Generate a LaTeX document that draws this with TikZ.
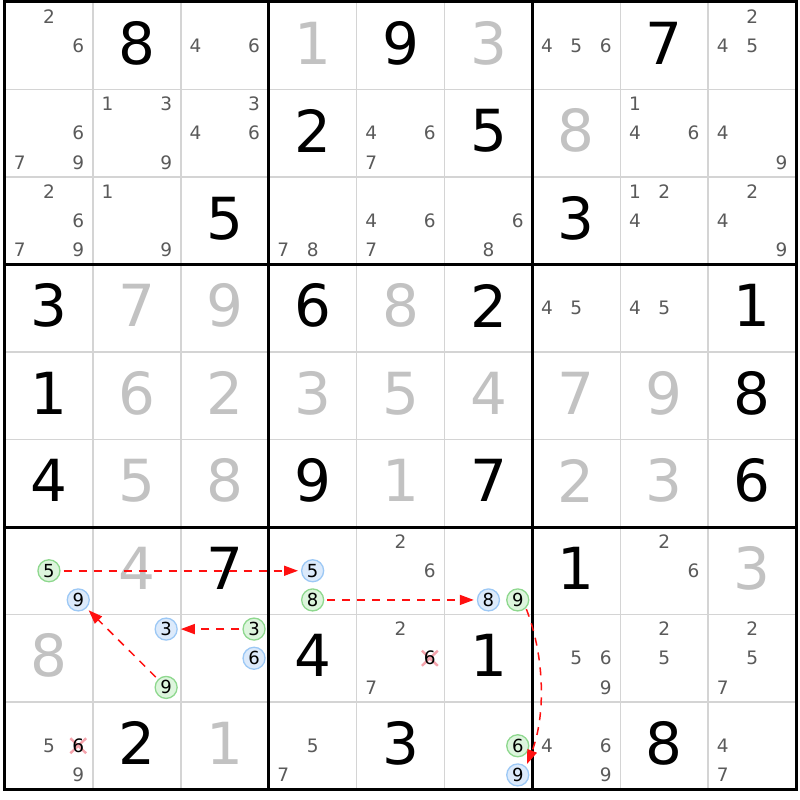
\documentclass[tikz,border=0pt]{standalone}
\usepackage{fontspec}
\setmainfont{DejaVu Sans}
\usetikzlibrary{arrows.meta}
\definecolor{candgray}{HTML}{5A5A5A}
\definecolor{givengray}{HTML}{C2C2C2}
\definecolor{linegray}{HTML}{D4D4D4}
\definecolor{ringgreen}{HTML}{8ED88E}
\definecolor{fillgreen}{HTML}{DDF5DD}
\definecolor{ringblue}{HTML}{9CC8F5}
\definecolor{fillblue}{HTML}{DCEAFB}
\definecolor{crosspink}{HTML}{F4A3AC}
\definecolor{chainred}{HTML}{FF1010}
\begin{document}
\begin{tikzpicture}[x=87.9pt,y=-87.5pt,
  thinline/.style={draw=linegray,line width=1.6pt},
  thickline/.style={draw=black,line width=3pt},
  given/.style={inner sep=0pt,font=\fontsize{58pt}{58pt}\selectfont,text=black},
  solved/.style={given,text=givengray},
  candtxt/.style={inner sep=0pt,font=\fontsize{18.5pt}{18.5pt}\selectfont,text=candgray},
  gcirc/.style={circle,inner sep=0pt,minimum size=22pt,draw=ringgreen,fill=fillgreen,line width=1.3pt,font=\fontsize{18pt}{18pt}\selectfont,text=black},
  bcirc/.style={gcirc,draw=ringblue,fill=fillblue},
  crossline/.style={draw=crosspink,line width=2.4pt},
  linkarrow/.style={draw=chainred,line width=1.5pt,dash pattern=on 8pt off 7pt,-{Triangle[length=14pt,width=10pt]},shorten <=3pt,shorten >=3pt}]
% page: 800 x 800
\fill[white] (-5pt,2pt) rectangle (795pt,-798pt);
\useasboundingbox (-5pt,2pt) rectangle (795pt,-798pt);
% thin grid lines
\foreach \i in {1,2,4,5,7,8} {
  \draw[thinline] (\i,0) -- (\i,9);
  \draw[thinline] (0,\i) -- (9,\i);
}
% thick box lines
\foreach \i in {3,6} {
  \draw[thickline] (\i,0) -- (\i,9);
  \draw[thickline] (0,\i) -- (9,\i);
}
\draw[thickline] (0,0) rectangle (9,9);
% given digits (black)
\foreach \r/\c/\d in {0/1/8,0/4/9,0/7/7,1/3/2,1/5/5,2/2/5,2/6/3,3/0/3,3/3/6,3/5/2,3/8/1,4/0/1,4/8/8,5/0/4,5/3/9,5/5/7,5/8/6,6/2/7,6/6/1,7/3/4,7/5/1,8/1/2,8/4/3,8/7/8}
  \node[given] (g\r\c) at (\c+0.5,\r+0.472) {\d};
% solved digits (gray)
\foreach \r/\c/\d in {0/3/1,0/5/3,1/6/8,3/1/7,3/2/9,3/4/8,4/1/6,4/2/2,4/3/3,4/4/5,4/5/4,4/6/7,4/7/9,5/1/5,5/2/8,5/4/1,5/6/2,5/7/3,6/1/4,6/8/3,7/0/8,8/2/1}
  \node[solved] (g\r\c) at (\c+0.5,\r+0.472) {\d};
% candidates
\foreach \r/\c/\d in {0/0/2,0/0/6,0/2/4,0/2/6,0/6/4,0/6/5,0/6/6,0/8/2,0/8/4,0/8/5,
  1/0/6,1/0/7,1/0/9,1/1/1,1/1/3,1/1/9,1/2/3,1/2/4,1/2/6,1/4/4,1/4/6,1/4/7,1/7/1,1/7/4,1/7/6,1/8/4,1/8/9,
  2/0/2,2/0/6,2/0/7,2/0/9,2/1/1,2/1/9,2/3/7,2/3/8,2/4/4,2/4/6,2/4/7,2/5/6,2/5/8,2/7/1,2/7/2,2/7/4,2/8/2,2/8/4,2/8/9,
  3/6/4,3/6/5,3/7/4,3/7/5,
  6/4/2,6/4/6,6/7/2,6/7/6,
  7/4/2,7/4/7,7/6/5,7/6/6,7/6/9,7/7/2,7/7/5,7/8/2,7/8/5,7/8/7,
  8/0/5,8/0/9,8/3/5,8/3/7,8/6/4,8/6/6,8/6/9,8/8/4,8/8/7} {
  \pgfmathtruncatemacro\kx{mod(\d-1,3)}
  \pgfmathtruncatemacro\ky{(\d-1)/3}
  \node[candtxt] (k\r\c\d) at ({\c+(2*\kx+1)/6},{\r+(2*\ky+1)/6}) {\d};
}
% eliminated candidates (crossed)
\foreach \r/\c/\d in {7/4/6,8/0/6} {
  \pgfmathtruncatemacro\kx{mod(\d-1,3)}
  \pgfmathtruncatemacro\ky{(\d-1)/3}
  \coordinate (x\r\c\d) at ({\c+(2*\kx+1)/6},{\r+(2*\ky+1)/6});
  \draw[crossline] (x\r\c\d) ++(-0.09,-0.086) -- ++(0.18,0.172);
  \draw[crossline] (x\r\c\d) ++(-0.09,0.086) -- ++(0.18,-0.172);
  \node[candtxt,text=black] (k\r\c\d) at (x\r\c\d) {\d};
}
% chain candidates: green
\foreach \r/\c/\d in {6/0/5,6/3/8,6/5/9,7/1/9,7/2/3,8/5/6} {
  \pgfmathtruncatemacro\kx{mod(\d-1,3)}
  \pgfmathtruncatemacro\ky{(\d-1)/3}
  \node[gcirc] (k\r\c\d) at ({\c+(2*\kx+1)/6},{\r+(2*\ky+1)/6}) {\d};
}
% chain candidates: blue
\foreach \r/\c/\d in {6/0/9,6/3/5,6/5/8,7/1/3,7/2/6,8/5/9} {
  \pgfmathtruncatemacro\kx{mod(\d-1,3)}
  \pgfmathtruncatemacro\ky{(\d-1)/3}
  \node[bcirc] (k\r\c\d) at ({\c+(2*\kx+1)/6},{\r+(2*\ky+1)/6}) {\d};
}
% chain links
\draw[linkarrow] (k605) -- (k635);
\draw[linkarrow] (k638) -- (k658);
\draw[linkarrow] (k723) -- (k713);
\draw[linkarrow] (k719) -- (k609);
\draw[linkarrow,shorten <=1pt] (k659.-45) .. controls +(0.22,0.57) and +(0.22,-0.57) .. (k859.45);
\end{tikzpicture}
\end{document}
